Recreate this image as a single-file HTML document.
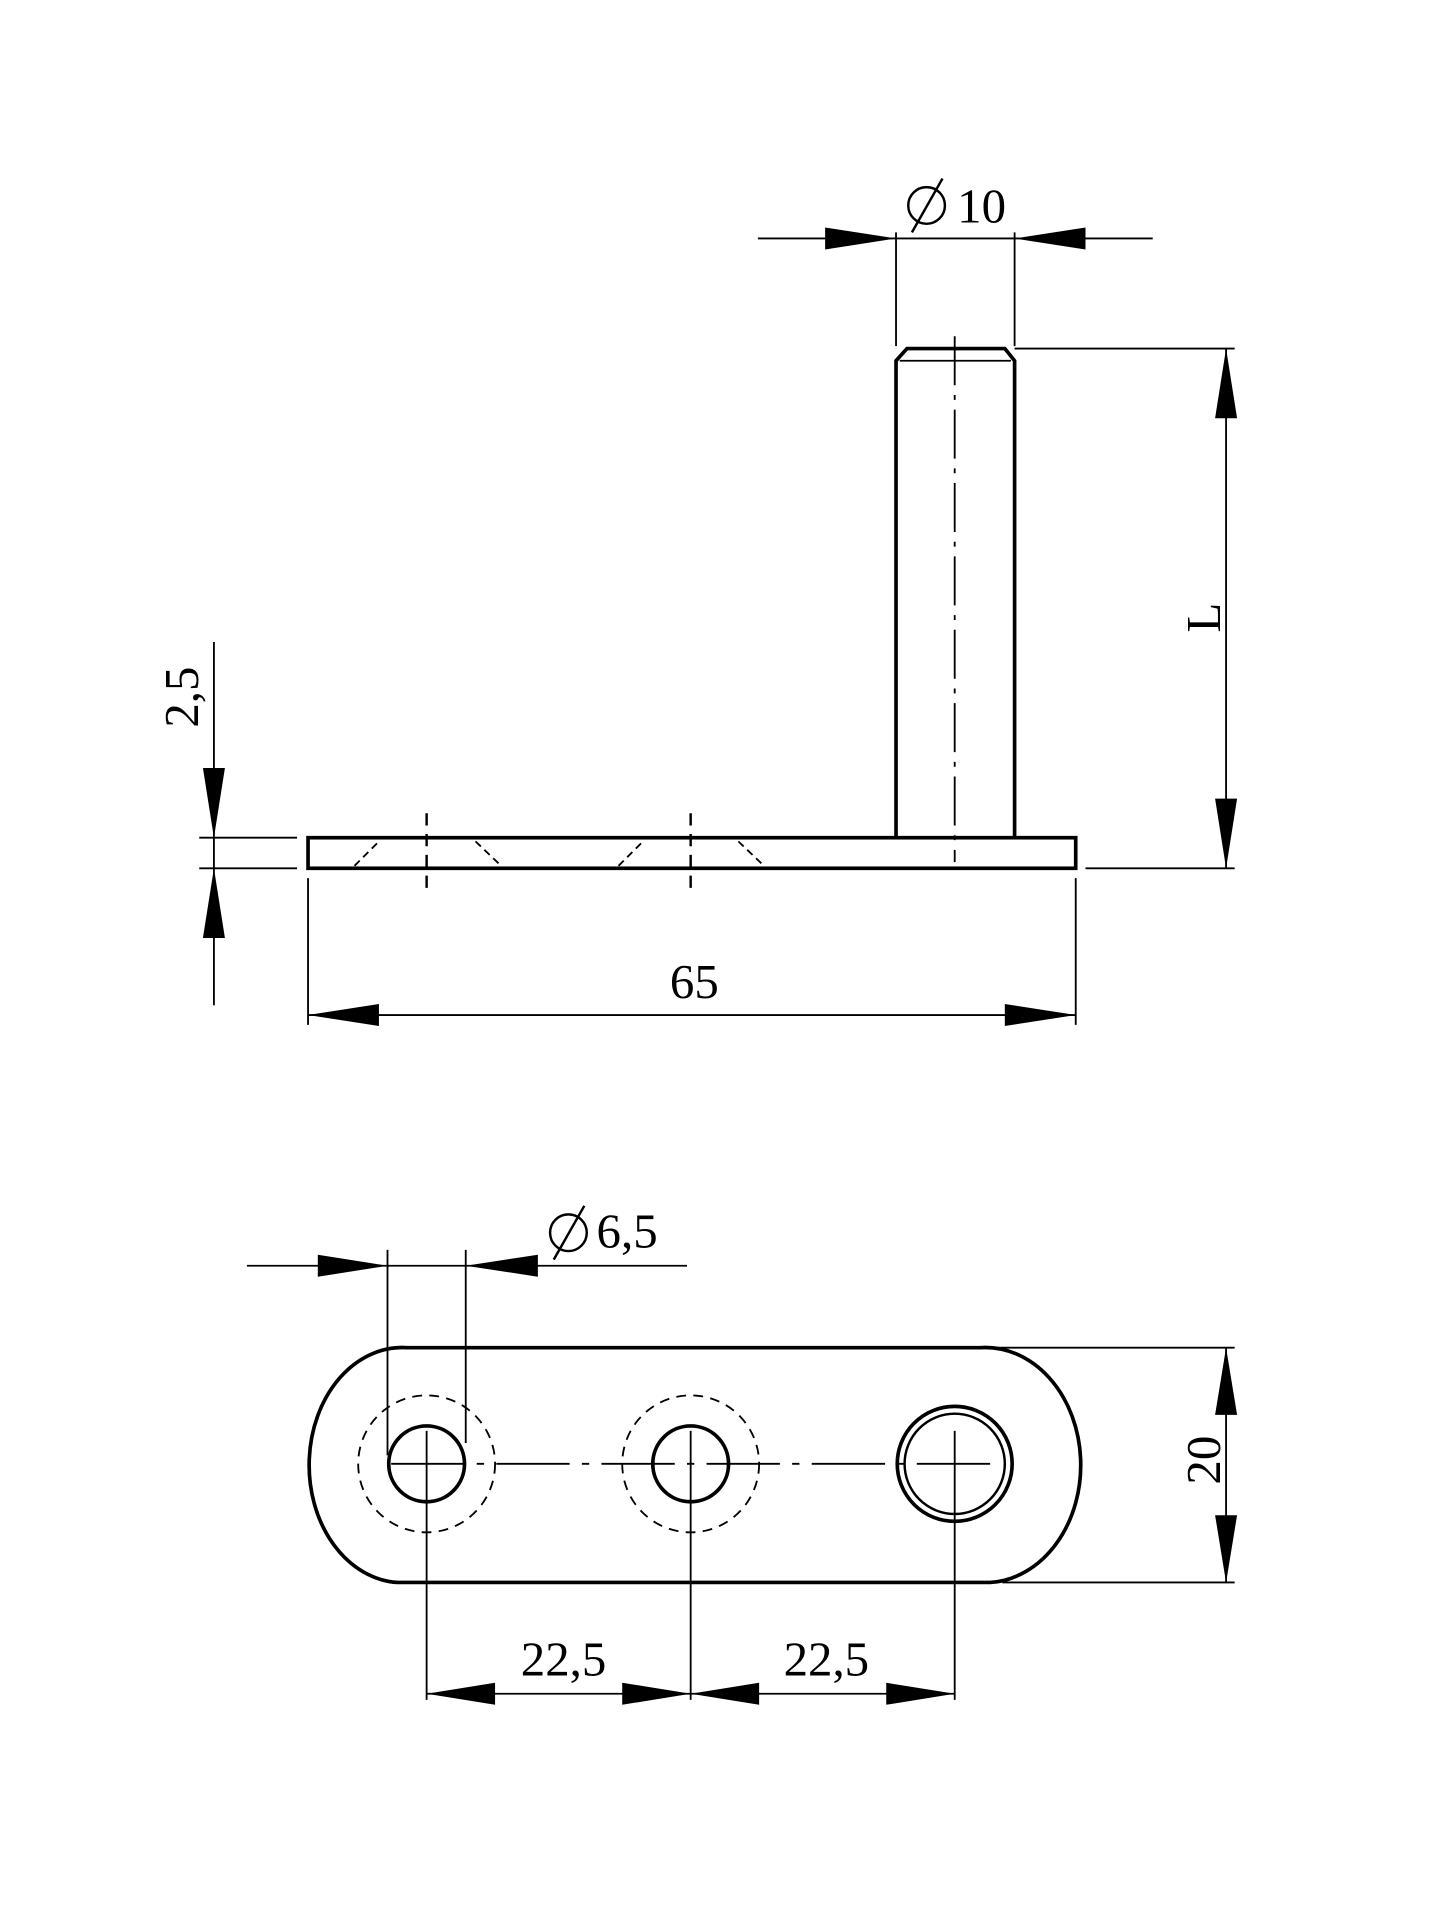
<!DOCTYPE html>
<html><head><meta charset="utf-8"><style>html,body{margin:0;padding:0;background:#fff}svg{display:block}</style></head>
<body>
<svg width="1440" height="1920" viewBox="0 0 1178 1570" preserveAspectRatio="none" xmlns="http://www.w3.org/2000/svg">
<g fill="none" stroke="#000">
<!-- TOP VIEW -->
<rect x="252" y="685" width="628" height="25" stroke-width="3"/>
<path d="M733 685 V295 L742 285 H822 L830 295 V685" stroke-width="3"/>
<line x1="736" y1="295" x2="827" y2="295" stroke-width="1.5"/>
<line x1="781" y1="275" x2="781" y2="705" stroke-width="1.5" stroke-dasharray="40 8 4 8"/>
<line x1="349" y1="665" x2="349" y2="728" stroke-width="2" stroke-dasharray="10 7"/>
<line x1="565" y1="665" x2="565" y2="728" stroke-width="2" stroke-dasharray="10 7"/>
<path d="M290 708 L310 688 M389 688 L410 708 M506 708 L526 688 M604 688 L625 708" stroke-width="1.5" stroke-dasharray="6 4"/>
<g stroke-width="1.5">
<line x1="620" y1="195" x2="943" y2="195"/>
<line x1="733" y1="190" x2="733" y2="283"/>
<line x1="830" y1="190" x2="830" y2="283"/>
<line x1="830" y1="285" x2="1010" y2="285"/>
<line x1="1003" y1="285" x2="1003" y2="710"/>
<line x1="888" y1="710" x2="1010" y2="710"/>
<line x1="175" y1="525" x2="175" y2="822"/>
<line x1="163" y1="685" x2="243" y2="685"/>
<line x1="163" y1="710" x2="243" y2="710"/>
<line x1="252" y1="718" x2="252" y2="838"/>
<line x1="880" y1="718" x2="880" y2="838"/>
<line x1="252" y1="830" x2="880" y2="830"/>
</g>
</g>
<g fill="#000">
<polygon points="675,186 733,195 675,204"/>
<polygon points="888,186 830,195 888,204"/>
<polygon points="994,342 1003,285 1012,342"/>
<polygon points="994,653 1003,710 1012,653"/>
<polygon points="166,628 175,685 184,628"/>
<polygon points="166,767 175,710 184,767"/>
<polygon points="310,821 252,830 310,839"/>
<polygon points="822,821 880,830 822,839"/>
</g>
<g font-family="Liberation Serif, serif" font-size="40" fill="#000">
<text x="783" y="182">10</text>
<text x="568" y="816" text-anchor="middle">65</text>
<text transform="translate(998,505) rotate(-90)" text-anchor="middle">L</text>
<text transform="translate(162,570) rotate(-90)" text-anchor="middle">2,5</text>
<text x="488" y="1020">6,5</text>
<text x="461" y="1370" text-anchor="middle">22,5</text>
<text x="676" y="1370" text-anchor="middle">22,5</text>
<text transform="translate(998,1194) rotate(-90)" text-anchor="middle">20</text>
</g>
<g fill="none" stroke="#000" stroke-width="2">
<circle cx="758" cy="168" r="15"/><line x1="746" y1="190" x2="771" y2="146"/>
<circle cx="465" cy="1008" r="15"/><line x1="453" y1="1030" x2="478" y2="986"/>
</g>
<!-- BOTTOM VIEW -->
<g fill="none" stroke="#000">
<path d="M333 1102 H802 A78 96 0 0 1 810 1294 H325 A76 96 0 0 1 333 1102 Z" stroke-width="3"/>
<circle cx="349" cy="1197" r="31" stroke-width="3"/>
<circle cx="565" cy="1197" r="31" stroke-width="3"/>
<circle cx="781" cy="1197" r="47" stroke-width="3"/>
<circle cx="781" cy="1197" r="41" stroke-width="2"/>
<circle cx="349" cy="1197" r="56" stroke-width="1.5" stroke-dasharray="8 6"/>
<circle cx="565" cy="1197" r="56" stroke-width="1.5" stroke-dasharray="8 6"/>
<line x1="320" y1="1197" x2="812" y2="1197" stroke-width="1.5" stroke-dasharray="60 10 6 10"/>
<g stroke-width="1.5">
<line x1="349" y1="1170" x2="349" y2="1390"/>
<line x1="565" y1="1170" x2="565" y2="1390"/>
<line x1="781" y1="1170" x2="781" y2="1390"/>
<line x1="317" y1="1022" x2="317" y2="1190"/>
<line x1="381" y1="1022" x2="381" y2="1180"/>
<line x1="202" y1="1035" x2="562" y2="1035"/>
<line x1="349" y1="1385" x2="781" y2="1385"/>
<line x1="810" y1="1102" x2="1010" y2="1102"/>
<line x1="820" y1="1294" x2="1010" y2="1294"/>
<line x1="1003" y1="1102" x2="1003" y2="1294"/>
</g>
</g>
<g fill="#000">
<polygon points="260,1026 317,1035 260,1044"/>
<polygon points="440,1026 381,1035 440,1044"/>
<polygon points="405,1376 349,1385 405,1394"/>
<polygon points="509,1376 565,1385 509,1394"/>
<polygon points="621,1376 565,1385 621,1394"/>
<polygon points="725,1376 781,1385 725,1394"/>
<polygon points="994,1157 1003,1102 1012,1157"/>
<polygon points="994,1239 1003,1294 1012,1239"/>
</g>
</svg>
</body></html>
